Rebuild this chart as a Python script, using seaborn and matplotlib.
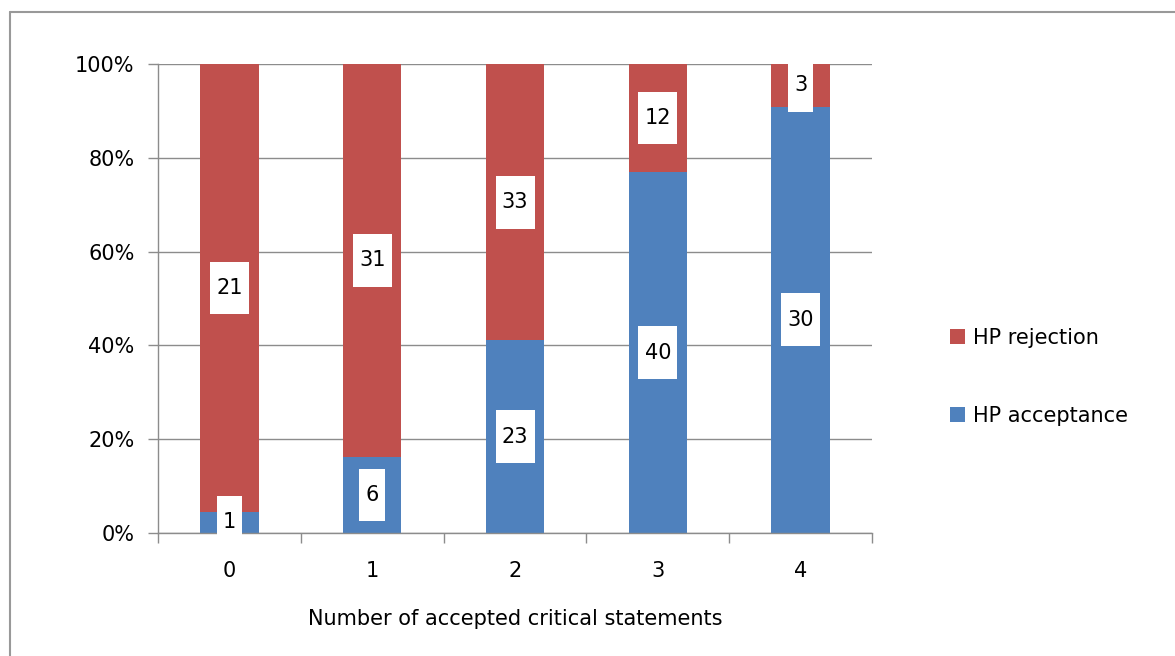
import matplotlib
matplotlib.use("Agg")
import matplotlib.pyplot as plt
import seaborn as sns
import pandas as pd
import numpy as np
from matplotlib.lines import Line2D
from matplotlib.patches import Patch

categories = ["0", "1", "2", "3", "4"]
acceptance = [1, 6, 23, 40, 30]
rejection = [21, 31, 33, 12, 3]
series_names = ["HP rejection", "HP acceptance"]
colors = {"HP rejection": "#C0504D", "HP acceptance": "#4F81BD"}
ytick_labels = ["0%", "20%", "40%", "60%", "80%", "100%"]
xlabel = "Number of accepted critical statements"

sns.set_theme(style="white")
plt.rcParams["font.family"] = ["DejaVu Sans"]
plt.rcParams["text.color"] = "black"

FS = 15

acc = np.array(acceptance, dtype=float)
rej = np.array(rejection, dtype=float)
tot = acc + rej
acc_pct = acc / tot * 100
rej_pct = rej / tot * 100

df = pd.DataFrame({"cat": categories, "acc_pct": acc_pct, "top_pct": acc_pct + rej_pct})

fig = plt.figure(figsize=(11.75, 6.56), dpi=100)
ax = fig.add_axes([158/1175, 1-533/656, (872-158)/1175, (533-64)/656])

grid_c = "#8C8C8C"
ax.set_axisbelow(True)
ax.yaxis.grid(True, color=grid_c, linewidth=1)

sns.barplot(data=df, x="cat", y="top_pct", color=colors["HP rejection"], width=0.41,
            ax=ax, saturation=1, edgecolor="none")
sns.barplot(data=df, x="cat", y="acc_pct", color=colors["HP acceptance"], width=0.41,
            ax=ax, saturation=1, edgecolor="none")

ax.set_xlim(-0.5, 4.5)
ax.set_ylim(0, 100)
ax.set_yticks(np.arange(0, 101, 20))
ax.set_yticklabels(ytick_labels)
ax.set_xticks(range(len(categories)))
ax.set_xticklabels(categories)
ax.set_xticks(np.arange(-0.5, 4.6, 1), minor=True)
ax.tick_params(axis="both", which="both", left=True, bottom=True)
ax.tick_params(axis="x", which="major", length=0, pad=20, labelsize=FS, labelcolor="black")
ax.tick_params(axis="x", which="minor", length=7, width=1, color=grid_c, direction="out")
ax.tick_params(axis="y", which="major", length=7, width=1, color=grid_c, direction="out",
               pad=10, labelsize=FS, labelcolor="black")
for s in ["top", "right"]:
    ax.spines[s].set_visible(False)
for s in ["left", "bottom"]:
    ax.spines[s].set_color(grid_c)
    ax.spines[s].set_linewidth(1)

ax.set_xlabel(xlabel, fontsize=FS, labelpad=20, color="black")
ax.set_ylabel("")

box = dict(boxstyle="square,pad=0.3", facecolor="white", edgecolor="none")
for i in range(len(categories)):
    ax.text(i, acc_pct[i] / 2, f"\u200a\n{acceptance[i]}\n\u200a", ha="center", va="center",
            fontsize=FS, linespacing=0.38, bbox=box, color="black", clip_on=False)
    ax.text(i, acc_pct[i] + rej_pct[i] / 2, f"\u200a\n{rejection[i]}\n\u200a", ha="center", va="center",
            fontsize=FS, linespacing=0.38, bbox=box, color="black", clip_on=False)

handles = [Patch(facecolor=colors[n], edgecolor="none") for n in series_names]
leg = fig.legend(handles, series_names, loc="center left", bbox_to_anchor=(950/1175, 1-377/656),
                 frameon=False, fontsize=FS, handlelength=0.72, handleheight=0.72,
                 labelspacing=2.8, handletextpad=0.4, borderpad=0, borderaxespad=0)
for t in leg.get_texts():
    t.set_color("black")

fig.add_artist(Line2D([10/1175, 10/1175], [0, 1-12/656], color="#999999", linewidth=1.5))
fig.add_artist(Line2D([10/1175, 1], [1-12/656, 1-12/656], color="#999999", linewidth=1.5))

fig.savefig("out.png", dpi=100)
